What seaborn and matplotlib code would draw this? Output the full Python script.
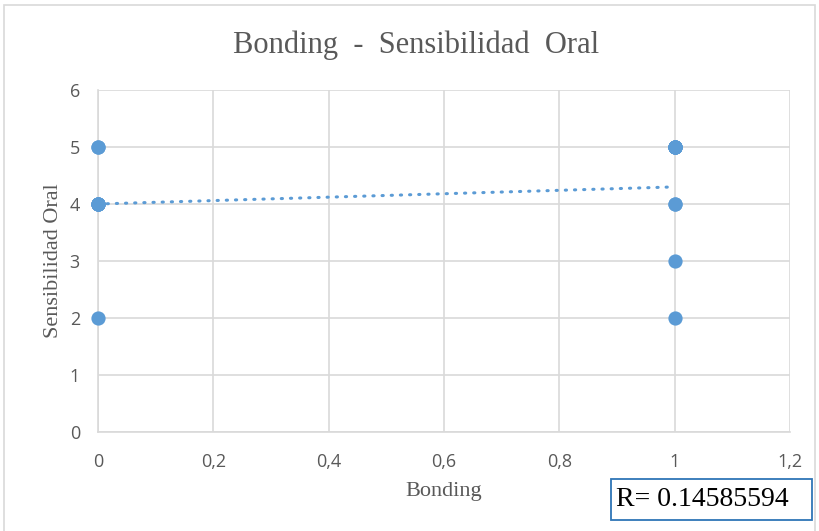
import matplotlib
matplotlib.use("Agg")
import matplotlib.pyplot as plt
import seaborn as sns
import pandas as pd
from matplotlib.patches import Rectangle
from matplotlib.ticker import FuncFormatter

# Data
bonding = [0, 0, 0, 0, 0, 0, 0, 0, 1, 1, 1, 1, 1, 1, 1, 1, 1, 1]
sensibilidad = [5, 5, 4, 4, 4, 4, 4, 2, 5, 5, 5, 5, 5, 5, 4, 4, 3, 2]
x_ticks = [0, 0.2, 0.4, 0.6, 0.8, 1, 1.2]
y_ticks = [0, 1, 2, 3, 4, 5, 6]
title = "Bonding  -  Sensibilidad  Oral"
r_label = "R= 0.14585594"

df = pd.DataFrame({"Bonding": bonding, "Sensibilidad Oral": sensibilidad})

sns.set_theme(style="white")
serif = ["Liberation Serif", "DejaVu Serif"]
sans = ["Open Sans", "Liberation Sans", "DejaVu Sans"]
plt.rcParams["font.family"] = serif

blue = "#5b9bd5"
grid = "#d9d9d9"
tick_col = "#595959"

fig = plt.figure(figsize=(8.19, 5.31), dpi=100)
ax = fig.add_axes([98 / 819, 1 - 432 / 531, (790 - 98) / 819, (432 - 90) / 531])

sns.regplot(data=df, x="Bonding", y="Sensibilidad Oral", ax=ax, ci=None,
            truncate=True,
            scatter_kws=dict(s=105, color=blue, alpha=1, linewidths=0, zorder=3,
                             clip_on=False),
            line_kws=dict(color=blue, lw=2.2, linestyle=(0, (0.4, 2.6)),
                          dash_capstyle="round", zorder=4))

ax.set_xlim(0, 1.2)
ax.set_ylim(0, 6)
ax.set_xticks(x_ticks)
ax.set_yticks(y_ticks)
ax.xaxis.set_major_formatter(FuncFormatter(lambda v, p: ("%g" % v).replace(".", ",")))
ax.grid(True, color=grid, lw=1.2)
ax.set_axisbelow(True)
for s in ["top", "right"]:
    ax.spines[s].set_visible(False)
for s in ["left", "bottom"]:
    ax.spines[s].set_color(grid)
    ax.spines[s].set_linewidth(1.2)
ax.tick_params(axis="both", length=0)
ax.tick_params(axis="x", pad=15, labelsize=13, colors=tick_col)
ax.tick_params(axis="y", pad=13, labelsize=13, colors=tick_col)
for lab in ax.get_yticklabels() + ax.get_xticklabels():
    lab.set_family(sans)

ax.set_xlabel("Bonding", fontsize=16, color=tick_col, labelpad=8)
ax.set_ylabel("Sensibilidad Oral", fontsize=16, color=tick_col, labelpad=5)
fig.text(416 / 819, 1 - 45 / 531, title, ha="center", va="center",
         fontsize=22, color=tick_col, family=serif)

# outer chart border
fig.patches.append(Rectangle((4 / 819, -0.05), (815 - 4) / 819, 1 - 5 / 531 + 0.05,
                             transform=fig.transFigure, fill=False,
                             edgecolor="#d9d9d9", lw=1.2))

# R annotation box
fig.patches.append(Rectangle((611 / 819, 1 - 520 / 531), (812 - 611) / 819, (520 - 479) / 531,
                             transform=fig.transFigure, facecolor="white",
                             edgecolor="#2e75b6", lw=1.3, zorder=5))
fig.text(616 / 819, 1 - 500 / 531, r_label, ha="left", va="center", fontsize=20,
         color="black", family=serif, zorder=6)

fig.savefig("out.png", dpi=100)
